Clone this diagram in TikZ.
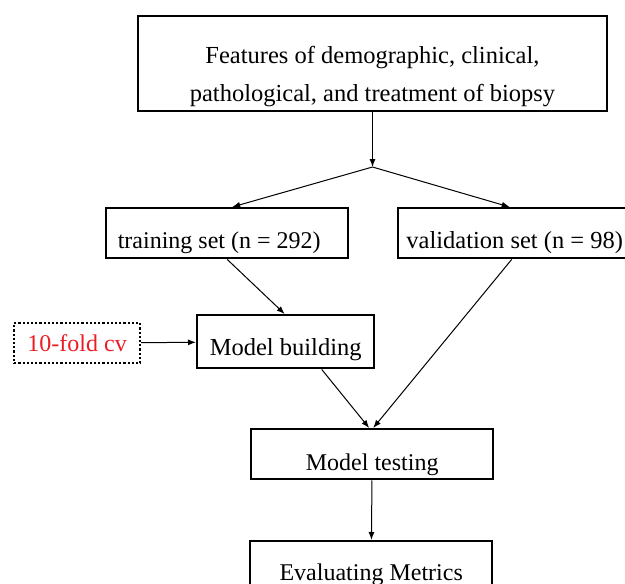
\documentclass[tikz,border=0pt]{standalone}
\usepackage{fontspec}
\setmainfont{Liberation Serif}
\usetikzlibrary{arrows.meta}

\definecolor{cvred}{RGB}{235,28,36}
\tikzset{
  stage/.style={draw, line width=2.4pt, inner xsep=8pt, inner ysep=0pt,
    text height=40pt, text depth=10pt, font=\fontsize{24}{29}\selectfont},
  flow/.style={-{Latex[length=8pt,width=6pt]}, line width=1pt},
}

\begin{document}
\begin{tikzpicture}[x=1pt, y=-1pt]
\useasboundingbox (0,0) rectangle (625,584);
\clip (0,0) rectangle (625,584);

% Daten
\node[draw, line width=2.4pt, inner sep=0pt, minimum width=469pt, align=center,
  anchor=north, font=\fontsize{24.5}{38}\selectfont] (feat) at (372.5,15)
  {\rule{0pt}{47pt}Features of demographic, clinical,\\
   pathological, and treatment of biopsy\rule[-10pt]{0pt}{10pt}};

\coordinate (split) at (372.5,167);

% Aufteilung
\node[stage, anchor=north west, minimum width=242pt] (train) at (105,207)
  {training set (n = 292)\rule{16pt}{0pt}};
\node[stage, anchor=north west, minimum width=233pt,
  font=\fontsize{24.5}{29}\selectfont] (val) at (397,207) {validation set (n = 98)};

% Modell
\node[draw, dotted, line width=2.2pt, text=cvred, inner ysep=0pt, minimum width=126pt,
  text height=28pt, text depth=12pt, font=\fontsize{24}{28}\selectfont,
  anchor=north west] (cv) at (13,322) {10-fold cv};
\node[stage, anchor=north west, minimum width=177pt, text depth=13pt,
  font=\fontsize{24.5}{30}\selectfont] (build) at (196,314) {Model building};
\node[stage, anchor=north west, minimum width=242pt, text height=41pt, text depth=9pt]
  (test) at (250,428) {Model testing};
\node[stage, anchor=north west, minimum width=242pt, text height=39pt, text depth=12pt]
  (eval) at (249,540) {Evaluating Metrics};

% Pfeile
\draw[flow] (feat) -- (split);
\draw[flow] (split) -- ([xshift=5pt]train.north);
\draw[flow] (split) -- ([xshift=-5pt]val.north);
\draw[flow] (train.south) -- ([xshift=-1pt]build.north);
\draw[flow] (cv) -- (build);
\draw[flow] ([xshift=36pt]build.south) -- ([xshift=-3pt]test.north);
\draw[flow] ([xshift=-3pt]val.south) -- ([xshift=1pt]test.north);
\draw[flow] (test) -- (eval);

\end{tikzpicture}
\end{document}
